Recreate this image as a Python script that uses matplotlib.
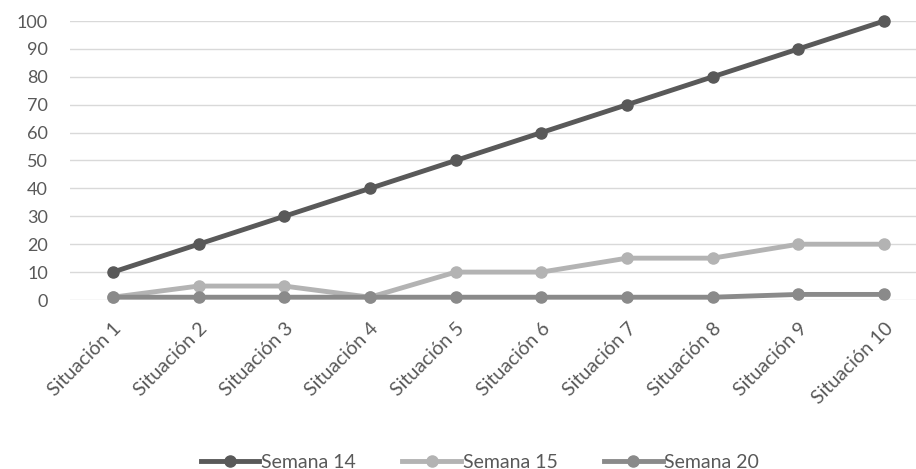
import matplotlib.pyplot as plt

plt.rcParams['font.family'] = ['Lato', 'DejaVu Sans']

categorias = ["Situación %d" % i for i in range(1, 11)]
semana_14 = [10, 20, 30, 40, 50, 60, 70, 80, 90, 100]
semana_15 = [1, 5, 5, 1, 10, 10, 15, 15, 20, 20]
semana_20 = [1, 1, 1, 1, 1, 1, 1, 1, 2, 2]

W, H = 916, 469
fig = plt.figure(figsize=(W / 100, H / 100), dpi=100)
ax = fig.add_axes([70 / W, 1 - 300 / H, 857 / W, 279 / H])

x = list(range(len(categorias)))
estilo = dict(linewidth=3.5, marker='o', markersize=8, clip_on=False, zorder=3)
ax.plot(x, semana_14, color='#595959', label='Semana 14', **estilo)
ax.plot(x, semana_15, color='#b3b3b3', label='Semana 15', **estilo)
ax.plot(x, semana_20, color='#8a8a8a', label='Semana 20', **estilo)

ax.set_xlim(-0.5, len(categorias) - 0.5)
ax.set_ylim(0, 100)
ax.set_yticks(range(0, 101, 10))
ax.set_xticks(x)
ax.set_xticklabels(categorias, rotation=45, ha='right', rotation_mode='anchor')
ax.tick_params(axis='both', length=0, labelsize=13, colors='#595959')
ax.tick_params(axis='y', pad=16)
ax.tick_params(axis='x', pad=14, labelsize=14)
ax.grid(axis='y', color='#d9d9d9', linewidth=1)
ax.set_axisbelow(True)
for s in ax.spines.values():
    s.set_visible(False)

leg = ax.legend(loc='center', bbox_to_anchor=(480 / W, 1 - 462 / H), bbox_transform=fig.transFigure,
                ncol=3, frameon=False, fontsize=14, handlelength=3, handletextpad=0.1,
                columnspacing=2.4, borderpad=0.2)
for t in leg.get_texts():
    t.set_color('#595959')

fig.savefig('out.png', dpi=100)
